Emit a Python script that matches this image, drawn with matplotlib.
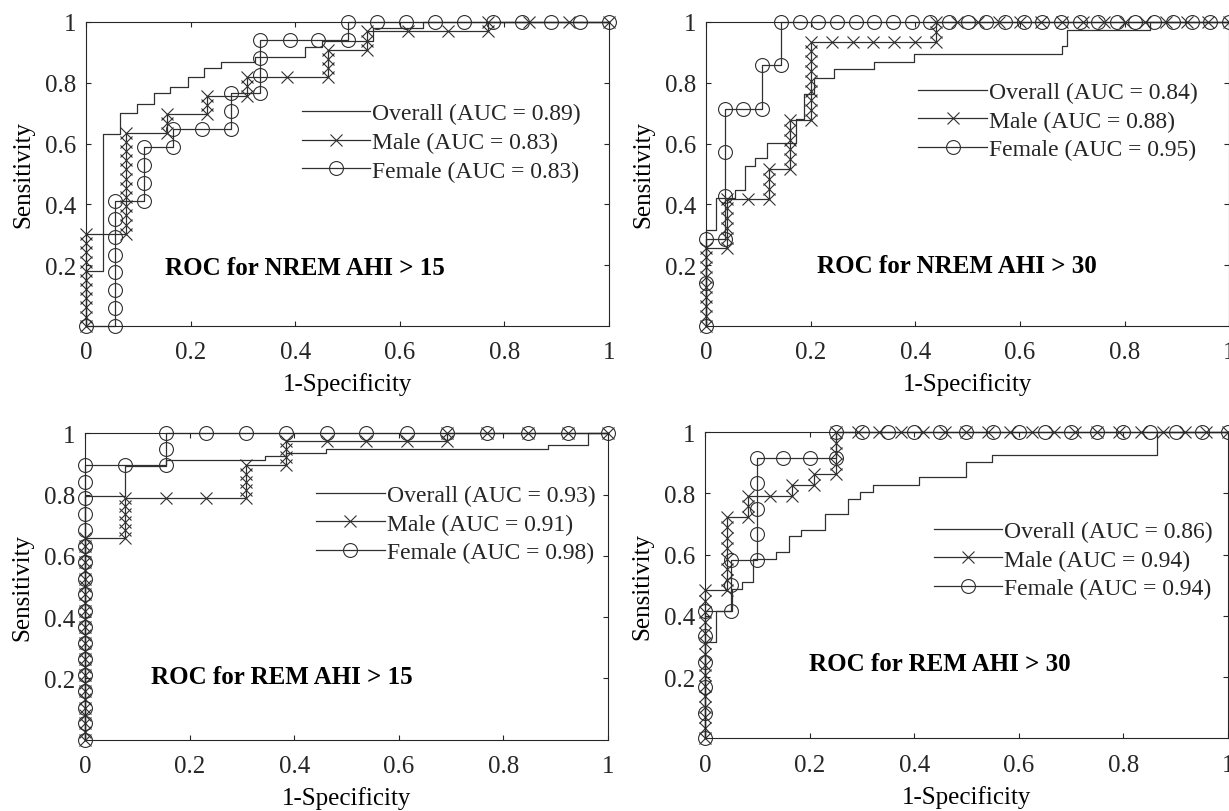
import matplotlib
matplotlib.use('Agg')
import matplotlib.pyplot as plt

plt.rcParams.update({
    'font.family': ['Liberation Serif', 'DejaVu Serif'],
    'font.size': 18,
    'axes.linewidth': 0.8,
    'axes.edgecolor': '#262626',
    'xtick.color': '#262626',
    'ytick.color': '#262626',
    'text.color': '#262626',
})

LINE_COLOR = '#303030'

# ---------------- ROC for NREM AHI > 15 ----------------
NREM15_ALL_FPR = [0, 0, 0.032, 0.032, 0.065, 0.065, 0.097, 0.097, 0.129, 0.129, 0.161, 0.161,
                  0.194, 0.194, 0.226, 0.226, 0.258, 0.258, 0.323, 0.323, 0.419, 0.419,
                  0.452, 0.452, 0.548, 0.548, 0.645, 0.645, 1.0]
NREM15_ALL_TPR = [0, 0.18, 0.18, 0.633, 0.633, 0.70, 0.70, 0.731, 0.731, 0.768, 0.768, 0.786,
                  0.786, 0.818, 0.818, 0.85, 0.85, 0.87, 0.87, 0.884, 0.884, 0.918,
                  0.918, 0.936, 0.936, 0.98, 0.98, 1.0, 1.0]
NREM15_MALE_FPR = [0, 0, 0, 0, 0, 0, 0, 0, 0, 0, 0,
                   0.077, 0.077, 0.077, 0.077, 0.077, 0.077, 0.077, 0.077, 0.077, 0.077, 0.077, 0.077,
                   0.154, 0.154, 0.154, 0.231, 0.231, 0.231, 0.308, 0.308, 0.308, 0.385,
                   0.462, 0.462, 0.462, 0.462, 0.538, 0.538, 0.538, 0.615, 0.692,
                   0.769, 0.769, 0.846, 0.923, 1.0]
NREM15_MALE_TPR = [0, 0.03, 0.061, 0.091, 0.121, 0.152, 0.182, 0.212, 0.242, 0.273, 0.303,
                   0.303, 0.333, 0.364, 0.394, 0.424, 0.455, 0.485, 0.515, 0.545, 0.576, 0.606, 0.636,
                   0.636, 0.667, 0.697, 0.697, 0.727, 0.758, 0.758, 0.788, 0.818, 0.818,
                   0.818, 0.848, 0.879, 0.909, 0.909, 0.939, 0.970, 0.970, 0.970,
                   0.970, 1.0, 1.0, 1.0, 1.0]
NREM15_FEMALE_FPR = [0, 0.056, 0.056, 0.056, 0.056, 0.056, 0.056, 0.056, 0.056,
                     0.111, 0.111, 0.111, 0.111, 0.167, 0.167, 0.222, 0.278, 0.278, 0.278,
                     0.333, 0.333, 0.333, 0.333, 0.389, 0.444, 0.5, 0.5,
                     0.556, 0.611, 0.667, 0.722, 0.778, 0.833, 0.889, 0.944, 1.0]
NREM15_FEMALE_TPR = [0, 0, 0.059, 0.118, 0.176, 0.235, 0.294, 0.353, 0.412,
                     0.412, 0.471, 0.529, 0.588, 0.588, 0.647, 0.647, 0.647, 0.706, 0.765,
                     0.765, 0.824, 0.882, 0.941, 0.941, 0.941, 0.941, 1.0,
                     1, 1, 1, 1, 1, 1, 1, 1, 1]

# ---------------- ROC for NREM AHI > 30 ----------------
NREM30_ALL_FPR = [0, 0, 0.019, 0.019, 0.055, 0.055, 0.075, 0.075, 0.094, 0.094, 0.116, 0.116,
                  0.172, 0.172, 0.187, 0.187, 0.206, 0.206, 0.245, 0.245, 0.321, 0.321,
                  0.398, 0.398, 0.68, 0.68, 0.69, 0.69, 0.849, 0.849, 1.0]
NREM30_ALL_TPR = [0, 0.315, 0.315, 0.421, 0.421, 0.446, 0.446, 0.526, 0.526, 0.553, 0.553, 0.603,
                  0.603, 0.68, 0.68, 0.764, 0.764, 0.816, 0.816, 0.844, 0.844, 0.87,
                  0.87, 0.896, 0.896, 0.92, 0.92, 0.975, 0.975, 1.0, 1.0]
NREM30_MALE_FPR = [0, 0, 0, 0, 0, 0, 0, 0, 0,
                   0.04, 0.04, 0.04, 0.04, 0.04, 0.04, 0.08, 0.12, 0.12, 0.12, 0.12,
                   0.16, 0.16, 0.16, 0.16, 0.16, 0.16,
                   0.2, 0.2, 0.2, 0.2, 0.2, 0.2, 0.2, 0.2, 0.2,
                   0.24, 0.28, 0.32, 0.36, 0.40, 0.44, 0.44, 0.44,
                   0.48, 0.52, 0.56, 0.6, 0.64, 0.68, 0.72, 0.76, 0.8, 0.84, 0.88, 0.92, 0.96, 1.0]
NREM30_MALE_TPR = [0, 0.032, 0.065, 0.097, 0.129, 0.161, 0.194, 0.226, 0.258,
                   0.258, 0.290, 0.323, 0.355, 0.387, 0.419, 0.419, 0.419, 0.452, 0.484, 0.516,
                   0.516, 0.548, 0.581, 0.613, 0.645, 0.677,
                   0.677, 0.710, 0.742, 0.774, 0.806, 0.839, 0.871, 0.903, 0.935,
                   0.935, 0.935, 0.935, 0.935, 0.935, 0.935, 0.968, 1.0,
                   1, 1, 1, 1, 1, 1, 1, 1, 1, 1, 1, 1, 1, 1]
NREM30_FEMALE_FPR = [0, 0, 0, 0.036, 0.036, 0.036, 0.036, 0.071, 0.107, 0.107, 0.143, 0.143,
                     0.179, 0.214, 0.25, 0.286, 0.321, 0.357, 0.393, 0.429, 0.464, 0.5, 0.536, 0.571,
                     0.607, 0.643, 0.679, 0.714, 0.75, 0.786, 0.821, 0.857, 0.893, 0.929, 0.964, 1.0]
NREM30_FEMALE_TPR = [0, 0.143, 0.286, 0.286, 0.429, 0.571, 0.714, 0.714, 0.714, 0.857, 0.857, 1.0,
                     1, 1, 1, 1, 1, 1, 1, 1, 1, 1, 1, 1,
                     1, 1, 1, 1, 1, 1, 1, 1, 1, 1, 1, 1]

# ---------------- ROC for REM AHI > 15 ----------------
REM15_ALL_FPR = [0, 0, 0.077, 0.077, 0.154, 0.154, 0.344, 0.344, 0.384, 0.384, 0.461, 0.461,
                 0.885, 0.885, 0.962, 0.962, 1.0]
REM15_ALL_TPR = [0, 0.794, 0.794, 0.894, 0.894, 0.913, 0.913, 0.927, 0.927, 0.937, 0.937, 0.949,
                 0.949, 0.962, 0.962, 1.0, 1.0]
REM15_MALE_FPR = [0, 0, 0, 0, 0, 0, 0, 0, 0, 0, 0, 0, 0,
                  0, 0, 0, 0, 0, 0, 0, 0, 0, 0, 0, 0, 0,
                  0.077, 0.077, 0.077, 0.077, 0.077, 0.077, 0.154, 0.231,
                  0.308, 0.308, 0.308, 0.308, 0.308, 0.385, 0.385, 0.385, 0.385,
                  0.462, 0.538, 0.615, 0.692, 0.692, 0.769, 0.846, 0.923, 1.0]
REM15_MALE_TPR = [0, 0.026, 0.053, 0.079, 0.105, 0.132, 0.158, 0.184, 0.211, 0.237, 0.263, 0.289, 0.316,
                  0.342, 0.368, 0.395, 0.421, 0.447, 0.474, 0.5, 0.526, 0.553, 0.579, 0.605, 0.632, 0.658,
                  0.658, 0.684, 0.711, 0.737, 0.763, 0.789, 0.789, 0.789,
                  0.789, 0.816, 0.842, 0.868, 0.895, 0.895, 0.921, 0.947, 0.974,
                  0.974, 0.974, 0.974, 0.974, 1.0, 1, 1, 1, 1]
REM15_FEMALE_FPR = [0, 0, 0, 0, 0, 0, 0, 0, 0, 0, 0, 0, 0, 0, 0, 0, 0, 0,
                    0.077, 0.154, 0.154, 0.154,
                    0.231, 0.308, 0.385, 0.462, 0.538, 0.615, 0.692, 0.769, 0.846, 0.923, 1.0]
REM15_FEMALE_TPR = [0, 0.053, 0.105, 0.158, 0.211, 0.263, 0.316, 0.368, 0.421, 0.474, 0.526, 0.579,
                    0.632, 0.684, 0.737, 0.789, 0.842, 0.895,
                    0.895, 0.895, 0.947, 1.0,
                    1, 1, 1, 1, 1, 1, 1, 1, 1, 1, 1]

# ---------------- ROC for REM AHI > 30 ----------------
REM30_ALL_FPR = [0, 0, 0.022, 0.022, 0.051, 0.051, 0.07, 0.07, 0.091, 0.091, 0.136, 0.136,
                 0.161, 0.161, 0.183, 0.183, 0.23, 0.23, 0.274, 0.274, 0.296, 0.296,
                 0.321, 0.321, 0.41, 0.41, 0.5, 0.5, 0.548, 0.548, 0.865, 0.865, 1.0]
REM30_ALL_TPR = [0, 0.316, 0.316, 0.417, 0.417, 0.488, 0.488, 0.512, 0.512, 0.586, 0.586, 0.61,
                 0.61, 0.662, 0.662, 0.682, 0.682, 0.733, 0.733, 0.782, 0.782, 0.806,
                 0.806, 0.828, 0.828, 0.855, 0.855, 0.904, 0.904, 0.924, 0.924, 1.0, 1.0]
REM30_MALE_FPR = [0, 0, 0, 0, 0, 0, 0, 0, 0, 0, 0, 0, 0, 0, 0,
                  0.042, 0.042, 0.042, 0.042, 0.042, 0.042, 0.042, 0.042,
                  0.083, 0.083, 0.083, 0.125, 0.167, 0.167, 0.208, 0.208,
                  0.25, 0.25, 0.25, 0.25, 0.25,
                  0.292, 0.333, 0.375, 0.417, 0.458, 0.5, 0.542, 0.583, 0.625,
                  0.667, 0.708, 0.75, 0.792, 0.833, 0.875, 0.917, 0.958, 1.0]
REM30_MALE_TPR = [0, 0.034, 0.069, 0.103, 0.138, 0.172, 0.207, 0.241, 0.276, 0.31, 0.345, 0.379,
                  0.414, 0.448, 0.483,
                  0.483, 0.517, 0.552, 0.586, 0.621, 0.655, 0.69, 0.724,
                  0.724, 0.759, 0.793, 0.793, 0.793, 0.828, 0.828, 0.862,
                  0.862, 0.897, 0.931, 0.966, 1.0,
                  1, 1, 1, 1, 1, 1, 1, 1, 1,
                  1, 1, 1, 1, 1, 1, 1, 1, 1]
REM30_FEMALE_FPR = [0, 0, 0, 0, 0, 0, 0.05, 0.05, 0.05, 0.1, 0.1, 0.1, 0.1, 0.1,
                    0.15, 0.2, 0.25, 0.25,
                    0.3, 0.35, 0.4, 0.45, 0.5, 0.55, 0.6, 0.65, 0.7, 0.75, 0.8, 0.85, 0.9, 0.95, 1.0]
REM30_FEMALE_TPR = [0, 0.083, 0.167, 0.25, 0.333, 0.417, 0.417, 0.5, 0.583, 0.583, 0.667, 0.75,
                    0.833, 0.917, 0.917, 0.917, 0.917, 1.0,
                    1, 1, 1, 1, 1, 1, 1, 1, 1, 1, 1, 1, 1, 1, 1]

TITLES = ['ROC for NREM AHI > 15', 'ROC for NREM AHI > 30',
          'ROC for REM AHI > 15', 'ROC for REM AHI > 30']
AUC_OVERALL = ['0.89', '0.84', '0.93', '0.86']
AUC_MALE = ['0.83', '0.88', '0.91', '0.94']
AUC_FEMALE = ['0.83', '0.95', '0.98', '0.94']

PANELS = [
    (NREM15_ALL_FPR, NREM15_ALL_TPR, NREM15_MALE_FPR, NREM15_MALE_TPR, NREM15_FEMALE_FPR, NREM15_FEMALE_TPR),
    (NREM30_ALL_FPR, NREM30_ALL_TPR, NREM30_MALE_FPR, NREM30_MALE_TPR, NREM30_FEMALE_FPR, NREM30_FEMALE_TPR),
    (REM15_ALL_FPR, REM15_ALL_TPR, REM15_MALE_FPR, REM15_MALE_TPR, REM15_FEMALE_FPR, REM15_FEMALE_TPR),
    (REM30_ALL_FPR, REM30_ALL_TPR, REM30_MALE_FPR, REM30_MALE_TPR, REM30_FEMALE_FPR, REM30_FEMALE_TPR),
]

# layout (figure fractions) and in-axes placement of title text / legend
AX_RECTS = [
    (0.0700, 0.5973, 0.4256, 0.3744),
    (0.5745, 0.5973, 0.4256, 0.3744),
    (0.0692, 0.0878, 0.4256, 0.3774),
    (0.5736, 0.0895, 0.4256, 0.3770),
]
TITLE_POS = [(0.151, 0.194), (0.212, 0.199), (0.127, 0.205), (0.198, 0.243)]
LEGEND_POS = [(0.412, 0.604), (0.406, 0.675), (0.442, 0.704), (0.437, 0.583)]

fig = plt.figure(figsize=(12.29, 8.12), dpi=100)

for i, (all_x, all_y, m_x, m_y, f_x, f_y) in enumerate(PANELS):
    ax = fig.add_axes(AX_RECTS[i])
    ax.plot(all_x, all_y, '-', color=LINE_COLOR, lw=0.9, clip_on=False,
            label=f'Overall (AUC = {AUC_OVERALL[i]})')
    ax.plot(m_x, m_y, '-x', color=LINE_COLOR, lw=0.9, ms=8, mew=0.8, clip_on=False,
            label=f'Male (AUC = {AUC_MALE[i]})')
    ax.plot(f_x, f_y, '-o', color=LINE_COLOR, lw=0.9, ms=10, mew=0.8, mfc='none',
            clip_on=False, label=f'Female (AUC = {AUC_FEMALE[i]})')

    ax.set_xlim(0, 1)
    ax.set_ylim(0, 1)
    ax.set_xticks([0, 0.2, 0.4, 0.6, 0.8, 1])
    ax.set_xticklabels(['0', '0.2', '0.4', '0.6', '0.8', '1'])
    ax.set_yticks([0.2, 0.4, 0.6, 0.8, 1])
    ax.set_yticklabels(['0.2', '0.4', '0.6', '0.8', '1'])
    ax.tick_params(direction='in', top=True, right=True, length=3.6, width=0.8,
                   labelsize=18)
    ax.tick_params(axis='x', pad=11)
    ax.tick_params(axis='y', pad=7)

    ax.set_xlabel('1-Specificity', fontsize=18)
    ax.set_ylabel('Sensitivity', fontsize=18)
    ax.xaxis.label.set_va('center')
    ax.yaxis.label.set_va('center')
    ax.xaxis.set_label_coords(0.5, -0.19)
    ax.yaxis.set_label_coords(-0.12, 0.5)

    tx, ty = TITLE_POS[i]
    ax.text(tx, ty, TITLES[i], transform=ax.transAxes, ha='left', va='center',
            fontsize=18, fontweight='bold', color='black')

    lx, ly = LEGEND_POS[i]
    ax.legend(loc='center left', bbox_to_anchor=(lx, ly), frameon=False, fontsize=17,
              handlelength=2.9, handletextpad=0.1, labelspacing=0.3,
              borderpad=0, borderaxespad=0, numpoints=1)

fig.savefig('out.png', dpi=100)
